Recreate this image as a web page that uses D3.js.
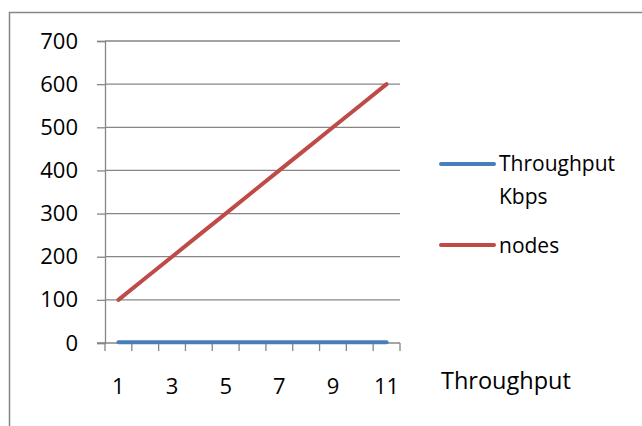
<!DOCTYPE html>
<html><head><meta charset="utf-8">
<script src="https://cdn.jsdelivr.net/npm/d3@7"></script>
<style>body{margin:0;background:#fff}svg{display:block}text{font-family:"Open Sans",sans-serif;fill:#000}</style>
</head><body><svg id="c" width="642" height="426"></svg>
<script>
const categories = [1,2,3,4,5,6,7,8,9,10,11];
const throughputKbps = [2,2,2,2,2,2,2,2,2,2,2];
const nodes = [100,150,200,250,300,350,400,450,500,550,600];
const yTicks = [0,100,200,300,400,500,600,700];
const xLabels = [1,3,5,7,9,11];
const seriesNames = ["Throughput Kbps","nodes"];
const colors = ["#4a7ebb","#be4b48"];

const svg = d3.select("#c");
const grid = "#868686";
svg.append("rect").attr("x",9.5).attr("y",12.5).attr("width",700).attr("height",500)
  .attr("fill","none").attr("stroke",grid).attr("stroke-width",1.5);

const x = d3.scaleBand().domain(categories).range([105,400]);
const y = d3.scaleLinear().domain([0,700]).range([343,41]);

// gridlines
svg.append("g").selectAll("line").data(yTicks.filter(d=>d>0)).join("line")
  .attr("x1",105).attr("x2",400).attr("y1",d=>y(d)).attr("y2",d=>y(d))
  .attr("stroke",grid).attr("stroke-width",1.3);

// y axis
const ya = svg.append("g").attr("transform","translate(105,0)")
  .call(d3.axisLeft(y).tickValues(yTicks).tickSize(8).tickPadding(19));
ya.select(".domain").attr("stroke",grid).attr("stroke-width",1.3);
ya.selectAll(".tick line").attr("stroke",grid).attr("stroke-width",1.3);
ya.selectAll("text").attr("font-size",22).attr("font-family","Open Sans").attr("fill","#000");

// x axis
const xa = svg.append("g").attr("transform","translate(0,343)");
xa.append("line").attr("x1",97).attr("x2",400).attr("stroke",grid).attr("stroke-width",1.3);
const edges = categories.map(c=>x(c)).concat([x(categories[categories.length-1])+x.bandwidth()]);
xa.selectAll("line.t").data(edges).join("line").attr("class","t")
  .attr("x1",d=>d).attr("x2",d=>d).attr("y1",0).attr("y2",8).attr("stroke",grid).attr("stroke-width",1.3);
xa.selectAll("text").data(xLabels).join("text")
  .attr("x",d=>x(d)+x.bandwidth()/2).attr("y",51).attr("text-anchor","middle")
  .attr("font-size",22).text(d=>d);
svg.append("text").attr("x",441).attr("y",389).attr("font-size",23.5).text("Throughput");

// lines
const line = d3.line().x((d,i)=>x(categories[i])+x.bandwidth()/2).y(d=>y(d));
[throughputKbps,nodes].forEach((s,i)=>{
  svg.append("path").datum(s).attr("d",line).attr("fill","none")
    .attr("stroke",colors[i]).attr("stroke-width",4).attr("stroke-linecap","round");
});

// legend
const lg = svg.append("g");
const ly = [164,245];
seriesNames.forEach((n,i)=>{
  lg.append("line").attr("x1",441).attr("x2",494).attr("y1",ly[i]).attr("y2",ly[i])
    .attr("stroke",colors[i]).attr("stroke-width",4).attr("stroke-linecap","round");
});
const t0 = lg.append("text").attr("x",499).attr("y",171).attr("font-size",21);
t0.append("tspan").attr("x",499).text("Throughput");
t0.append("tspan").attr("x",499).attr("dy",33).text("Kbps");
lg.append("text").attr("x",499).attr("y",253).attr("font-size",21).text(seriesNames[1]);
</script></body></html>
